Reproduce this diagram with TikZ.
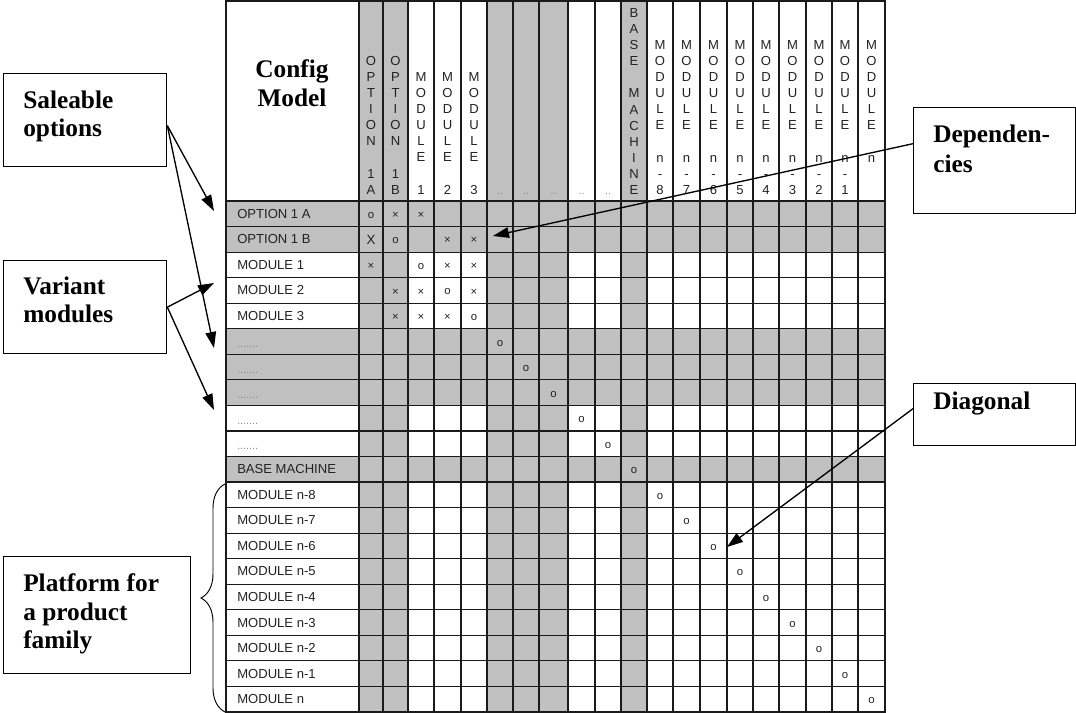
\documentclass[tikz,border=0pt]{standalone}
\usepackage{fontspec}
\setmainfont{Liberation Serif}
\newfontfamily\gridfont{Liberation Sans}
\usetikzlibrary{arrows.meta,decorations.pathreplacing}

\definecolor{cellgray}{HTML}{C0C0C0}
\definecolor{rulecol}{HTML}{1A1A1A}
\definecolor{inktext}{HTML}{222222}
\definecolor{dotgray}{HTML}{8A8A8A}

% column boundaries of the matrix (x, in px)
\def\cx{{359,383,408,434,461,487,513,539,568,595,621,647,673,700,727,753,779,806,832,858,885}}

% vertical column heading: column index, centre of first letter, letters
\newcommand\matrixhead[3]{%
  \pgfmathtruncatemacro\ci{#1-1}%
  \pgfmathsetmacro\xl{\cx[\ci]}%
  \pgfmathsetmacro\xr{\cx[#1]}%
  \pgfmathsetmacro\xc{(\xl+\xr)/2}%
  \foreach \ch [count=\k from 0] in {#3}{
    \node[headchar] (hd#1-\k) at (\xc,{#2+\k*16.1+4.5}) {\ch};
  }}

% mark in a cell: row, column, symbol
\newcommand\cellentry[3]{%
  \pgfmathtruncatemacro\ci{#2-1}%
  \pgfmathsetmacro\xl{\cx[\ci]}%
  \pgfmathsetmacro\xr{\cx[#2]}%
  \pgfmathsetmacro\xc{(\xl+\xr)/2}%
  \node[cellmark] (m#1-#2) at (\xc,{201+(#1-0.5)*25.55+1.5}) {#3};}

\begin{document}
\begin{tikzpicture}[x=0.75pt,y=-0.75pt,
  gridtext/.style={font=\gridfont\fontsize{9.8}{11}\selectfont,text=inktext,inner sep=0pt},
  headchar/.style={gridtext,anchor=base},
  rowlabel/.style={gridtext,anchor=base west},
  cellmark/.style={font=\gridfont\fontsize{8.5}{9}\selectfont,text=inktext,inner sep=0pt,anchor=center},
  calloutbox/.style={draw=black,line width=1pt,fill=white,inner sep=0pt,anchor=north west},
  callouttext/.style={font=\bfseries\fontsize{19}{22}\selectfont,anchor=base west,inner sep=0pt},
  pointer/.style={draw=black,line width=1pt,-{Triangle[length=12pt,width=8pt]}},
  gridrule/.style={draw=rulecol,line width=0.85pt}
]
\useasboundingbox (0,0) rectangle (1076,713);

% shaded rows and columns
\fill[cellgray] (226,201) rectangle (885,252.1);
\fill[cellgray] (226,328.75) rectangle (885,405.4);
\fill[cellgray] (226,456.5) rectangle (885,482.05);
\fill[cellgray] (359,1) rectangle (408,712);
\fill[cellgray] (487,1) rectangle (568,712);
\fill[cellgray] (621,1) rectangle (647,712);

% grid
\foreach \i in {1,...,19}{
  \pgfmathsetmacro\xx{\cx[\i]}
  \draw[gridrule] (\xx,1) -- (\xx,712);
}
\draw[gridrule] (359,1) -- (359,712);
\foreach \r in {0,...,19}{
  \draw[gridrule] (226,{201+\r*25.55}) -- (885,{201+\r*25.55});
}
\draw[gridrule] (226,1) rectangle (885,712);

% corner heading
\node[font=\bfseries\fontsize{19}{22}\selectfont,anchor=base,inner sep=0pt] (cfg1) at (292,78) {Config};
\node[font=\bfseries\fontsize{19}{22}\selectfont,anchor=base,inner sep=0pt] (cfg2) at (292,107) {Model};

% column headings
\matrixhead{1}{61}{O,P,T,I,O,N,{},1,A}
\matrixhead{2}{61}{O,P,T,I,O,N,{},1,B}
\matrixhead{3}{77}{M,O,D,U,L,E,{},1}
\matrixhead{4}{77}{M,O,D,U,L,E,{},2}
\matrixhead{5}{77}{M,O,D,U,L,E,{},3}
\foreach \c in {6,...,10}{
  \pgfmathtruncatemacro\ci{\c-1}
  \pgfmathsetmacro\xl{\cx[\ci]}
  \pgfmathsetmacro\xr{\cx[\c]}
  \node[headchar,text=dotgray,font=\gridfont\fontsize{8}{9}\selectfont] (hd\c) at ({(\xl+\xr)/2},194.5) {..};
}
\matrixhead{11}{13}{B,A,S,E,{},M,A,C,H,I,N,E}
\foreach \c/\d in {12/8,13/7,14/6,15/5,16/4,17/3,18/2,19/1}{
  \matrixhead{\c}{45}{M,O,D,U,L,E,{},n,-,\d}
}
\matrixhead{20}{45}{M,O,D,U,L,E,{},n}

% row headings
\foreach \r/\t in {1/OPTION 1 A,2/OPTION 1 B,3/MODULE 1,4/MODULE 2,5/MODULE 3,
  11/BASE MACHINE,12/MODULE n-8,13/MODULE n-7,14/MODULE n-6,15/MODULE n-5,
  16/MODULE n-4,17/MODULE n-3,18/MODULE n-2,19/MODULE n-1,20/MODULE n}{
  \node[rowlabel] (rl\r) at (237,{201+(\r-0.5)*25.55+4.5}) {\t};
}
\foreach \r in {6,...,10}{
  \node[rowlabel,text=dotgray,font=\gridfont\fontsize{8}{9}\selectfont] (rl\r) at (237,{201+(\r-0.5)*25.55+6}) {.......};
}

% dependency marks
\cellentry{1}{1}{o}\cellentry{1}{2}{×}\cellentry{1}{3}{×}
\node[cellmark,font=\gridfont\fontsize{10}{11}\selectfont] (m2-1) at (371,{201+1.5*25.55+1}) {X};
\cellentry{2}{2}{o}\cellentry{2}{4}{×}\cellentry{2}{5}{×}
\cellentry{3}{1}{×}\cellentry{3}{3}{o}\cellentry{3}{4}{×}\cellentry{3}{5}{×}
\cellentry{4}{2}{×}\cellentry{4}{3}{×}\cellentry{4}{4}{o}\cellentry{4}{5}{×}
\cellentry{5}{2}{×}\cellentry{5}{3}{×}\cellentry{5}{4}{×}\cellentry{5}{5}{o}
\foreach \d in {6,...,20}{ \cellentry{\d}{\d}{o} }

% callouts
\node[calloutbox,minimum width=122.25pt,minimum height=69.75pt] (sale) at (3,73) {};
\node[callouttext] (sale1) at (23,109) {Saleable};
\node[callouttext] (sale2) at (23,137) {options};

\node[calloutbox,minimum width=122.25pt,minimum height=69.75pt] (vari) at (3,260) {};
\node[callouttext] (vari1) at (23,295) {Variant};
\node[callouttext] (vari2) at (23,323) {modules};

\node[calloutbox,minimum width=140.25pt,minimum height=87.75pt] (plat) at (3,556) {};
\node[callouttext] (plat1) at (23,591) {Platform for};
\node[callouttext] (plat2) at (23,620) {a product};
\node[callouttext] (plat3) at (23,648) {family};

\node[calloutbox,minimum width=121.5pt,minimum height=79.5pt] (depd) at (913,107) {};
\node[callouttext] (depd1) at (933,143) {Dependen-};
\node[callouttext] (depd2) at (933,173) {cies};

\node[calloutbox,minimum width=121.5pt,minimum height=46.5pt] (diag) at (913,383) {};
\node[callouttext] (diag1) at (933,410) {Diagonal};

% arrow targets inside the matrix
\coordinate (tSaleA) at (214,211);
\coordinate (tSaleB) at (214,348);
\coordinate (tVariA) at (214,283);
\coordinate (tVariB) at (214,410);
\coordinate (tDepd) at (493,236);
\coordinate (tDiag) at (727,547);

\draw[pointer] ([yshift=-4.1pt]sale.east) -- (tSaleA);
\draw[pointer] ([yshift=-4.1pt]sale.east) -- (tSaleB);
\draw[pointer] (vari.east) -- (tVariA);
\draw[pointer] (vari.east) -- (tVariB);
\draw[pointer] ([yshift=12.75pt]depd.west) -- (tDepd);
\draw[pointer] ([yshift=4.5pt]diag.west) -- (tDiag);

% brace over the platform rows
\coordinate (braceLow) at (225,712);
\coordinate (braceHigh) at (225,484);
\draw[line width=0.7pt,decorate,decoration={brace,amplitude=18pt}] (braceLow) -- (braceHigh);
\end{tikzpicture}
\end{document}
